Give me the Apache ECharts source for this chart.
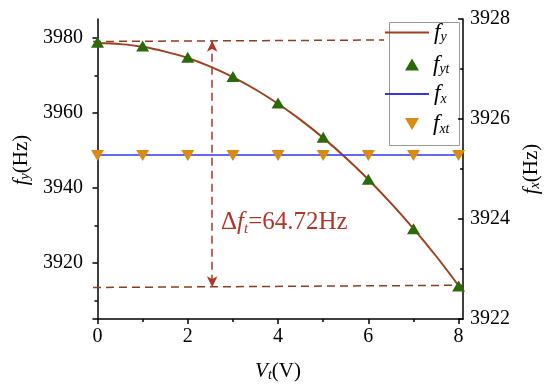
<!DOCTYPE html>
<html>
<head>
<meta charset="utf-8">
<script src="https://cdn.jsdelivr.net/npm/echarts@6/dist/echarts.min.js"></script>
<style>html,body{margin:0;padding:0;background:#fff}#c{width:550px;height:392px}</style>
</head>
<body>
<div id="c"></div>
<script>
// ---- data ----
const vt = [0, 1, 2, 3, 4, 5, 6, 7, 8];
// fitted curve f_y, every 0.5 V
const fitX = [0, 0.5, 1, 1.5, 2, 2.5, 3, 3.5, 4, 4.5, 5, 5.5, 6, 6.5, 7, 7.5, 8];
const fyFit = [3978.6, 3978.3, 3977.6, 3976.3, 3974.6, 3972.3, 3969.5, 3966.2, 3962.4, 3958.1, 3953.3, 3948.0, 3942.2, 3935.9, 3929.1, 3921.8, 3913.9];
const fyt = [3978.8, 3977.8, 3974.8, 3969.7, 3962.6, 3953.5, 3942.3, 3929.1, 3913.8];
const fx = [3925.28, 3925.28, 3925.28, 3925.28, 3925.28, 3925.28, 3925.28, 3925.28, 3925.28];
const fxt = [3925.27, 3925.27, 3925.27, 3925.27, 3925.27, 3925.27, 3925.27, 3925.27, 3925.27];
const xTicks = [0, 2, 4, 6, 8];
const xMinor = [1, 3, 5, 7];
const yLeftTicks = [3920, 3940, 3960, 3980];
const yLeftMinor = [3910, 3930, 3950, 3970];
const yRightTicks = [3922, 3924, 3926, 3928];
const yRightMinor = [3923, 3925, 3927];
const guideTop = [[-0.1, 3979.0], [6.35, 3979.4]];
const guideBottom = [[-0.1, 3913.4], [8.1, 3914.0]];
const arrowX = 2.54;
const arrowTop = 3979.2;
const arrowBottom = 3913.5;
const deltaLabel = '64.72Hz';

const FONT = "'Liberation Serif','Times New Roman',serif";
const zip = (a, b) => a.map((v, i) => [v, b[i]]);
const black = '#000';

const chart = echarts.init(document.getElementById('c'), null, {renderer: 'canvas'});
const subRich = {
  g: {width: 0},
  g2: {width: 9},
  f: {fontFamily: FONT, fontStyle: 'italic', fontSize: 23, color: '#000', lineHeight: 24},
  s: {fontFamily: FONT, fontStyle: 'italic', fontSize: 14, color: '#000', lineHeight: 12, verticalAlign: 'bottom'}
};
const subOf = {f_y: 'y', f_yt: 'yt', f_x: 'x', f_xt: 'xt'};
const plain = v => String(v);

const axisFont = {fontFamily: FONT, fontSize: 20, color: '#000', formatter: plain};
const nameRich = {
  i: {fontFamily: FONT, fontStyle: 'italic', fontSize: 21, color: '#000'},
  s: {fontFamily: FONT, fontStyle: 'italic', fontSize: 14, color: '#000', verticalAlign: 'bottom', lineHeight: 12},
  n: {fontFamily: FONT, fontSize: 21, color: '#000'}
};

const option = {
  animation: false,
  backgroundColor: '#fff',
  grid: {left: 93, right: 85, top: 19, bottom: 73, containLabel: false},
  xAxis: [
    {
      type: 'value', min: -0.1, max: 8.1, position: 'bottom',
      axisLine: {show: true, lineStyle: {color: black, width: 1.5}},
      axisTick: {show: true, customValues: xTicks, length: 5, lineStyle: {color: black, width: 1.5}},
      axisLabel: {show: true, customValues: xTicks, margin: 8, ...axisFont},
      splitLine: {show: false},
      name: '{i|V}{s|t}{n|(V)}', nameLocation: 'middle', nameGap: 42,
      nameTextStyle: {rich: nameRich}
    },
    {
      type: 'value', min: -0.1, max: 8.1, position: 'bottom',
      axisLine: {show: false},
      axisTick: {show: true, customValues: xMinor, length: 3, lineStyle: {color: black, width: 1.5}},
      axisLabel: {show: false}, splitLine: {show: false}
    }
  ],
  yAxis: [
    {
      type: 'value', min: 3905, max: 3985, position: 'left',
      axisLine: {show: true, lineStyle: {color: black, width: 1.5}},
      axisTick: {show: true, customValues: yLeftTicks, length: 5, lineStyle: {color: black, width: 1.5}},
      axisLabel: {show: true, customValues: yLeftTicks, margin: 10, ...axisFont},
      splitLine: {show: false},
      name: '{i|f}{s|y}{n|(Hz)}', nameLocation: 'middle', nameGap: 60, nameRotate: 90,
      nameTextStyle: {rich: nameRich, padding: [0, 0, 0, 18]}
    },
    {
      type: 'value', min: 3905, max: 3985, position: 'left',
      axisLine: {show: false},
      axisTick: {show: true, customValues: yLeftMinor, length: 3, lineStyle: {color: black, width: 1.5}},
      axisLabel: {show: false}, splitLine: {show: false}
    },
    {
      type: 'value', min: 3922, max: 3928, position: 'right',
      axisLine: {show: true, lineStyle: {color: black, width: 1.5}},
      axisTick: {show: true, inside: true, customValues: yRightTicks, length: 5, lineStyle: {color: black, width: 1.5}},
      axisLabel: {show: true, customValues: yRightTicks, margin: 7, ...axisFont},
      splitLine: {show: false},
      name: '{i|f}{s|x}{n|(Hz)}', nameLocation: 'middle', nameGap: 55, nameRotate: 90,
      nameTextStyle: {rich: nameRich}
    },
    {
      type: 'value', min: 3922, max: 3928, position: 'right',
      axisLine: {show: false},
      axisTick: {show: true, inside: true, customValues: yRightMinor, length: 3, lineStyle: {color: black, width: 1.5}},
      axisLabel: {show: false}, splitLine: {show: false}
    }
  ],
  legend: [
    {
      data: [
        {name: 'f_y', icon: 'path://M0,0 L44,0 L44,2 L0,2 Z'},
        {name: 'f_x', icon: 'path://M0,0 L44,0 L44,2 L0,2 Z'}
      ],
      orient: 'vertical', left: 385, top: 21, padding: 0,
      itemWidth: 44, itemHeight: 14, itemGap: 38,
      formatter: n => '{g|}{f|f}{s|' + subOf[n] + '}',
      textStyle: {rich: subRich}, selectedMode: false
    },
    {
      data: [
        {name: 'f_yt', icon: 'path://M6.5,0 L13,11 L0,11 Z'},
        {name: 'f_xt', icon: 'path://M0,0 L13,0 L6.5,11 Z'}
      ],
      orient: 'vertical', left: 405, top: 53, padding: 0,
      itemWidth: 14, itemHeight: 12, itemGap: 36,
      formatter: n => '{g2|}{f|f}{s|' + subOf[n] + '}',
      textStyle: {rich: subRich}, selectedMode: false
    }
  ],
  graphic: [
    {type: 'rect', left: 387, top: 20, shape: {width: 70, height: 123}, style: {fill: 'none', stroke: '#9a9a9a', lineWidth: 1}, z: 0, silent: true},
    {
      type: 'text', left: 221, top: 210, silent: true,
      style: {
        text: '{d|Δ}{i|f}{s|t}{d|=' + deltaLabel + '}',
        rich: {
          d: {fontFamily: FONT, fontSize: 25, fill: '#b2352a', lineHeight: 28},
          i: {fontFamily: FONT, fontStyle: 'italic', fontSize: 25, fill: '#b2352a', lineHeight: 28},
          s: {fontFamily: FONT, fontStyle: 'italic', fontSize: 15, fill: '#b2352a', lineHeight: 13, verticalAlign: 'bottom'}
        }
      }
    }
  ],
  series: [
    {
      name: 'guideTop', type: 'line', data: guideTop, symbol: 'none', silent: true, z: 1,
      lineStyle: {color: '#8e3d1f', width: 1.5, type: [8, 5]}
    },
    {
      name: 'guideBottom', type: 'line', data: guideBottom, symbol: 'none', silent: true, z: 1,
      lineStyle: {color: '#8e3d1f', width: 1.5, type: [8, 5]},
      markLine: {
        silent: true, animation: false,
        symbol: ['arrow', 'arrow'], symbolSize: [8, 11],
        label: {show: false},
        lineStyle: {color: '#b2352a', width: 1.5, type: [8, 5]},
        data: [[{coord: [arrowX, arrowTop]}, {coord: [arrowX, arrowBottom]}]]
      }
    },
    {
      name: 'f_y', type: 'line', data: zip(fitX, fyFit), smooth: 0.3, symbol: 'none', z: 2,
      itemStyle: {color: '#a13f1c'}, lineStyle: {color: '#a13f1c', width: 2}
    },
    {
      name: 'f_x', type: 'line', data: zip(vt, fx), yAxisIndex: 2, symbol: 'none', z: 2,
      itemStyle: {color: '#3434f5'}, lineStyle: {color: '#3434f5', width: 1.5}
    },
    {
      name: 'f_yt', type: 'scatter', data: zip(vt, fyt), symbol: 'triangle', symbolSize: [13, 11], z: 3,
      itemStyle: {color: '#2a6a08', opacity: 1}
    },
    {
      name: 'f_xt', type: 'scatter', data: zip(vt, fxt), yAxisIndex: 2, symbol: 'triangle', symbolRotate: 180,
      symbolSize: [13, 11], z: 3, itemStyle: {color: '#d98a12', opacity: 1}
    }
  ]
};
chart.setOption(option);
</script>
</body>
</html>
